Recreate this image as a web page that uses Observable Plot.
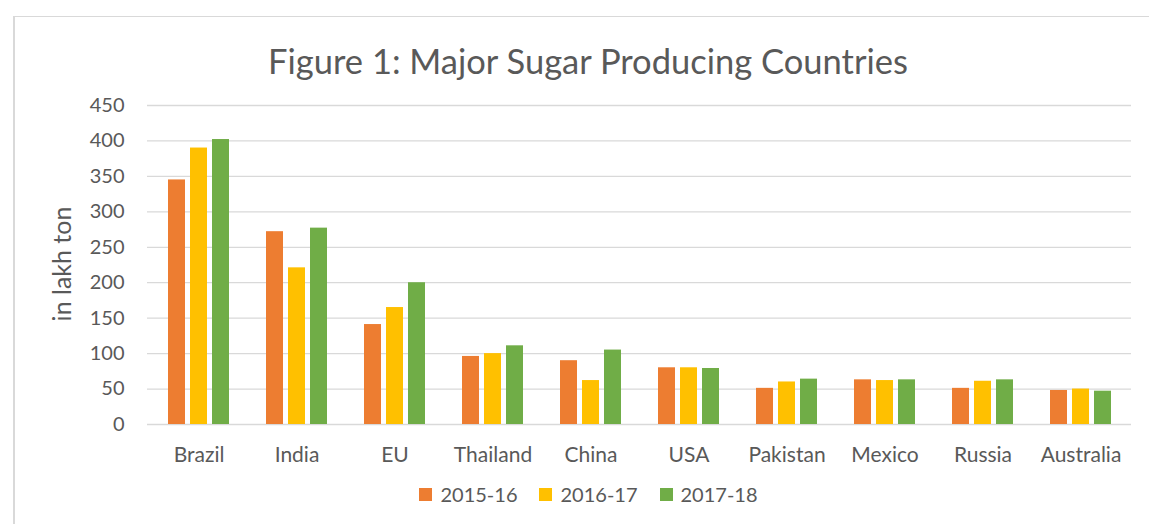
<!DOCTYPE html>
<html>
<head>
<meta charset="utf-8">
<script src="https://cdn.jsdelivr.net/npm/d3@7"></script>
<script src="https://cdn.jsdelivr.net/npm/@observablehq/plot@0.6"></script>
<style>
  html, body { margin: 0; padding: 0; background: #fff; }
  body { width: 1149px; height: 524px; position: relative; overflow: hidden; font-family: Lato, "Open Sans", sans-serif; color: #595959; }
  #frame { position: absolute; left: 13px; top: 16px; width: 1200px; height: 600px; border-left: 2px solid #d9d9d9; border-top: 1px solid #d9d9d9; }
  #title { position: absolute; left: 0; width: 1149px; top: 39px; text-align: center; font-size: 34.5px; line-height: 44px; color: #595959; padding-left: 27px; box-sizing: border-box; }
  #chart { position: absolute; left: 0; top: 85px; }
  #legend { position: absolute; top: 481px; left: 0; width: 1149px; display: flex; justify-content: center; gap: 22px; font-size: 20px; line-height: 26px; padding-left: 28px; box-sizing: border-box; }
  .item { display: flex; align-items: center; gap: 8px; }
  .sw { width: 13px; height: 13px; display: inline-block; }
</style>
</head>
<body>
<div id="frame"></div>
<div id="title">Figure 1: Major Sugar Producing Countries</div>
<div id="chart"></div>
<div id="legend"></div>
<script>
const countries = ["Brazil", "India", "EU", "Thailand", "China", "USA", "Pakistan", "Mexico", "Russia", "Australia"];
const seasons = ["2015-16", "2016-17", "2017-18"];
const colors = ["#ED7D31", "#FFC000", "#70AD47"];
const v2015 = [345, 272, 141, 96, 90, 80, 51, 63, 51, 48];
const v2016 = [390, 221, 165, 100, 62, 80, 60, 62, 61, 50];
const v2017 = [402, 277, 200, 111, 105, 79, 64, 63, 63, 47];
const yTicks = [0, 50, 100, 150, 200, 250, 300, 350, 400, 450];

const series = [v2015, v2016, v2017];
const data = [];
countries.forEach((c, i) => seasons.forEach((s, j) => data.push({country: c, season: s, value: series[j][i]})));

const W = 1149, ML = 147, MR = 18, PAD = 0.38;
const step = (W - ML - MR) / countries.length;
const bw = step * (1 - PAD);           // cluster width per country
const gap = 5;
const barW = (bw - 2 * gap) / 3;        // width of one bar

const chart = Plot.plot({
  width: W,
  height: 390,
  marginLeft: ML,
  marginRight: MR,
  marginTop: 20,
  marginBottom: 51,
  style: { fontFamily: "Lato, 'Open Sans', sans-serif", fontSize: "20px", color: "#595959", background: "transparent" },
  x: { domain: countries, paddingInner: PAD, paddingOuter: PAD / 2, label: null, tickSize: 0, tickPadding: 23 },
  y: { domain: [0, 450], ticks: yTicks, label: null, tickSize: 0, tickPadding: 23 },
  marks: [
    Plot.ruleY(yTicks, { stroke: "#d9d9d9", strokeWidth: 1.3 }),
    ...seasons.map((s, j) => Plot.barY(data.filter(d => d.season === s), {
      x: "country", y: "value", fill: colors[j],
      insetLeft: j * (barW + gap),
      insetRight: (2 - j) * (barW + gap)
    })),
    Plot.axisX({ tickSize: 0, tickPadding: 23, label: null, fontSize: 21 }),
    Plot.axisY({ ticks: yTicks, tickSize: 0, tickPadding: 23, label: null, fontSize: 20 })
  ]
});
document.getElementById("chart").appendChild(chart);

// Y axis title
const svg = d3.select(chart);
svg.append("text")
  .attr("transform", "translate(65,179) rotate(-90)")
  .attr("text-anchor", "middle")
  .attr("dominant-baseline", "middle")
  .attr("fill", "#595959")
  .style("font-size", "25px")
  .style("font-family", "Lato, 'Open Sans', sans-serif")
  .text("in lakh ton");

const legend = document.getElementById("legend");
seasons.forEach((s, i) => {
  const it = document.createElement("div");
  it.className = "item";
  it.innerHTML = `<span class="sw" style="background:${colors[i]}"></span><span>${s}</span>`;
  legend.appendChild(it);
});
</script>
</body>
</html>
